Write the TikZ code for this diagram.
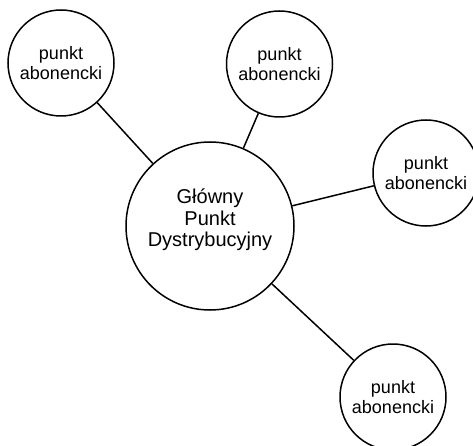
\documentclass[tikz,border=0pt]{standalone}
\usepackage{fontspec}
\setmainfont{Liberation Sans}
\usetikzlibrary{arrows,shapes}
\usetikzlibrary{calc}
\tikzstyle{vertex}=[circle,draw,line width=1.5pt,minimum size=106pt,inner sep=0pt,align=center,font=\fontsize{18}{19.5}\selectfont]
\tikzstyle{hubvertex}=[circle,draw,line width=1.5pt,minimum size=168pt,inner sep=0pt]
\tikzstyle{hubtext}=[align=center,font=\fontsize{20}{21.7}\selectfont]
\tikzstyle{undirectededge} = [draw,line width=1.5pt]

\begin{document}
\begin{tikzpicture}[x=1pt,y=-1pt]
    \useasboundingbox (0,0) rectangle (473,446);
    \clip (0,0) rectangle (473,446);

    % main distribution point
    \node[hubvertex] (hub) at (210,226) {};
    \node[hubtext] (hublabel) at (210,220) {Główny\\Punkt\\Dystrybucyjny};

    \foreach \pos/ \name in {{(61,63)/ab1},{(279.5,64)/ab2}, {(426,173)/ab3}, {(393,397)/ab4}}
        \node[vertex] (\name) at \pos {punkt\\abonencki};

    % Connect subscribers with the hub
    \foreach \dest in {ab1,ab2,ab3,ab4}
        \path[undirectededge] (hub) -- (\dest);

\end{tikzpicture}
\end{document}
